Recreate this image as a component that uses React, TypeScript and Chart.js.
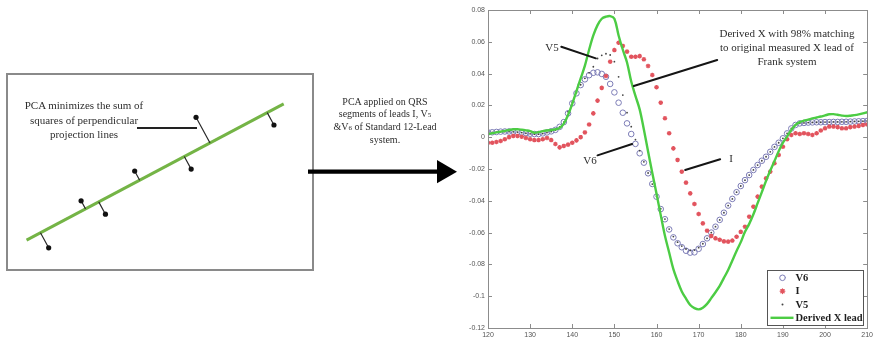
import React, { useEffect, useRef } from 'react';
import { Chart, registerables } from 'chart.js';
Chart.register(...registerables);

// ---------- ECG chart data ----------
const X_VALUES = [
  120, 121, 122, 123, 124, 125, 126, 127, 128, 129,
  130, 131, 132, 133, 134, 135, 136, 137, 138, 139,
  140, 141, 142, 143, 144, 145, 146, 147, 148, 149,
  150, 151, 152, 153, 154, 155, 156, 157, 158, 159,
  160, 161, 162, 163, 164, 165, 166, 167, 168, 169,
  170, 171, 172, 173, 174, 175, 176, 177, 178, 179,
  180, 181, 182, 183, 184, 185, 186, 187, 188, 189,
  190, 191, 192, 193, 194, 195, 196, 197, 198, 199,
  200, 201, 202, 203, 204, 205, 206, 207, 208, 209, 210,
];

const V6_VALUES = [
  0.003, 0.0031, 0.0033, 0.0035, 0.0036, 0.0036, 0.0035, 0.0033, 0.003, 0.0026,
  0.0022, 0.002, 0.002, 0.0024, 0.003, 0.0037, 0.0046, 0.0065, 0.0095, 0.015,
  0.0213, 0.0276, 0.0328, 0.0364, 0.039, 0.0405, 0.0408, 0.0398, 0.038, 0.0335,
  0.0282, 0.0217, 0.0154, 0.0087, 0.002, -0.0042, -0.0101, -0.016, -0.0227, -0.0294,
  -0.0374, -0.0452, -0.0516, -0.058, -0.063, -0.0667, -0.0692, -0.0714, -0.0726, -0.0724,
  -0.0702, -0.0672, -0.0636, -0.06, -0.0563, -0.052, -0.0475, -0.043, -0.0388, -0.0346,
  -0.0307, -0.027, -0.0238, -0.0206, -0.0175, -0.0148, -0.0123, -0.0092, -0.0061, -0.0035,
  -0.0007, 0.0024, 0.0055, 0.0077, 0.0087, 0.009, 0.0092, 0.0093, 0.0094, 0.0094,
  0.0095, 0.0095, 0.0096, 0.0096, 0.0097, 0.0097, 0.0098, 0.0099, 0.01, 0.0101, 0.0102,
];

const I_VALUES = [
  -0.0035, -0.0035, -0.003, -0.0024, -0.0013, 0.0, 0.0008, 0.0008, 0.0003, -0.0005,
  -0.0013, -0.0018, -0.0018, -0.0013, -0.0005, -0.0018, -0.0043, -0.0064, -0.0055, -0.0047,
  -0.0035, -0.002, 0.0, 0.003, 0.008, 0.015, 0.023, 0.031, 0.0385, 0.0475,
  0.0548, 0.0594, 0.0574, 0.0538, 0.0506, 0.0506, 0.051, 0.049, 0.0448, 0.0391,
  0.0314, 0.0217, 0.0119, 0.0025, -0.007, -0.0143, -0.0217, -0.0286, -0.0353, -0.042,
  -0.0483, -0.0542, -0.0588, -0.0621, -0.0636, -0.0645, -0.0655, -0.0657, -0.065, -0.0626,
  -0.0595, -0.0563, -0.05, -0.0437, -0.0374, -0.0311, -0.0259, -0.0217, -0.0164, -0.0112,
  -0.006, -0.0013, 0.0014, 0.0025, 0.002, 0.0025, 0.002, 0.0014, 0.0025, 0.0042,
  0.0056, 0.0067, 0.0067, 0.0063, 0.0056, 0.0056, 0.0063, 0.0067, 0.0071, 0.0077, 0.008,
];

const V5_VALUES = [
  0.0028, 0.003, 0.0032, 0.0034, 0.0035, 0.0035, 0.0034, 0.0032, 0.0029, 0.0025,
  0.0021, 0.0019, 0.0019, 0.0023, 0.0029, 0.0036, 0.0045, 0.0064, 0.0095, 0.016,
  0.022, 0.028, 0.033, 0.037, 0.0405, 0.0443, 0.0495, 0.0515, 0.0525, 0.0517,
  0.0475, 0.038, 0.0265, 0.0154, 0.0066, -0.0015, -0.0085, -0.0155, -0.0225, -0.0295,
  -0.0372, -0.045, -0.0515, -0.0578, -0.0625, -0.066, -0.0685, -0.0703, -0.0712, -0.071,
  -0.0695, -0.067, -0.0636, -0.06, -0.0563, -0.052, -0.0475, -0.043, -0.0388, -0.0346,
  -0.0307, -0.027, -0.0238, -0.0206, -0.0175, -0.0148, -0.0123, -0.0092, -0.0061, -0.0035,
  -0.0007, 0.0024, 0.0055, 0.0077, 0.0087, 0.009, 0.0092, 0.0093, 0.0094, 0.0094,
  0.0095, 0.0095, 0.0096, 0.0096, 0.0097, 0.0097, 0.0098, 0.0099, 0.01, 0.0101, 0.0102,
];

const DERIVED_X_VALUES = [
  0.002, 0.0025, 0.003, 0.0035, 0.004, 0.0045, 0.005, 0.005, 0.0047, 0.0043,
  0.0038, 0.0028, 0.0032, 0.0038, 0.0042, 0.0045, 0.005, 0.0058, 0.0085, 0.014,
  0.021, 0.029, 0.037, 0.045, 0.055, 0.064, 0.0705, 0.0745, 0.0758, 0.0762,
  0.0745, 0.064, 0.055, 0.047, 0.035, 0.026, 0.0175, 0.0048, -0.009, -0.0225,
  -0.0355, -0.049, -0.062, -0.0725, -0.083, -0.0905, -0.097, -0.1015, -0.1055, -0.1075,
  -0.1083, -0.1072, -0.1048, -0.1012, -0.0975, -0.0935, -0.0885, -0.0835, -0.0775, -0.0715,
  -0.066, -0.0595, -0.0545, -0.0485, -0.0415, -0.0345, -0.0275, -0.021, -0.015, -0.0088,
  -0.0035, 0.0005, 0.0045, 0.0078, 0.0095, 0.0104, 0.011, 0.0118, 0.0124, 0.013,
  0.0137, 0.0144, 0.0145, 0.0141, 0.0136, 0.0133, 0.0135, 0.0139, 0.0144, 0.015, 0.0157,
];

const X_TICKS = [120, 130, 140, 150, 160, 170, 180, 190, 200, 210];
const Y_TICKS = [-0.12, -0.1, -0.08, -0.06, -0.04, -0.02, 0, 0.02, 0.04, 0.06, 0.08];
const LEGEND_LABELS = ['V6', 'I', 'V5', 'Derived X lead'];

// annotation pointer segments (data coordinates): V5, Derived X, V6, I
const POINTER_FROM_X = [137.4, 174.4, 146.0, 175.1];
const POINTER_FROM_Y = [0.0569, 0.0486, -0.0114, -0.0139];
const POINTER_TO_X = [145.6, 154.6, 154.2, 166.8];
const POINTER_TO_Y = [0.0496, 0.0322, -0.0043, -0.0206];

// ---------- PCA schematic data ----------
const PCA_POINTS_X = [39.7, 73, 98, 128, 186, 191, 271];
const PCA_POINTS_Y = [20, 69, 55, 100, 102, 156, 148];
const PCA_LINE_X = [17, 281];
const PCA_LINE_Y = [28, 170];

const COLORS = {
  v6: '#7c7cb6',
  i: '#e2545e',
  v5: '#444444',
  derived: '#4ccc44',
  pcaLine: '#74b446',
};

const SERIF = "'Liberation Serif', 'Times New Roman', serif";
const SANS = "'Liberation Sans', Arial, sans-serif";

const toPts = (ys: number[]) => ys.map((y, i) => ({ x: X_VALUES[i], y }));

const framePlugin = {
  id: 'frameAndLegend',
  afterDatasetsDraw(chart: any) {
    const { ctx, chartArea: a, scales } = chart;
    const xs = scales.x;
    const ys = scales.y;
    ctx.save();
    // frame
    ctx.strokeStyle = '#8c8c8c';
    ctx.lineWidth = 1;
    ctx.strokeRect(Math.round(a.left) + 0.5, Math.round(a.top) + 0.5, Math.round(a.right - a.left), Math.round(a.bottom - a.top));
    ctx.beginPath();
    X_TICKS.forEach((v) => {
      const px = Math.round(xs.getPixelForValue(v)) + 0.5;
      ctx.moveTo(px, a.bottom); ctx.lineTo(px, a.bottom - 4);
      ctx.moveTo(px, a.top); ctx.lineTo(px, a.top + 4);
    });
    Y_TICKS.forEach((v) => {
      const py = Math.round(ys.getPixelForValue(v)) + 0.5;
      ctx.moveTo(a.left, py); ctx.lineTo(a.left + 4, py);
      ctx.moveTo(a.right, py); ctx.lineTo(a.right - 4, py);
    });
    ctx.stroke();

    // pointer lines
    ctx.strokeStyle = '#151515';
    ctx.lineWidth = 2;
    ctx.lineCap = 'round';
    POINTER_FROM_X.forEach((fx, k) => {
      ctx.beginPath();
      ctx.moveTo(xs.getPixelForValue(fx), ys.getPixelForValue(POINTER_FROM_Y[k]));
      ctx.lineTo(xs.getPixelForValue(POINTER_TO_X[k]), ys.getPixelForValue(POINTER_TO_Y[k]));
      ctx.stroke();
    });

    // legend
    const w = 96, h = 55;
    const lx = Math.round(a.right - 100) + 0.5;
    const ly = Math.round(a.bottom - 58) + 0.5;
    ctx.fillStyle = '#ffffff';
    ctx.fillRect(lx, ly, w, h);
    ctx.strokeStyle = '#555';
    ctx.lineWidth = 1;
    ctx.strokeRect(lx, ly, w, h);
    const rows = [7.3, 20.7, 34, 47.3];
    const mx = lx + 15;
    // V6
    ctx.beginPath();
    ctx.strokeStyle = COLORS.v6; ctx.lineWidth = 1;
    ctx.arc(mx, ly + rows[0], 2.8, 0, Math.PI * 2);
    ctx.stroke();
    // I (star)
    ctx.beginPath();
    ctx.strokeStyle = COLORS.i; ctx.lineWidth = 1.3;
    const r = 2.3, cy = ly + rows[1];
    ctx.moveTo(mx - r, cy); ctx.lineTo(mx + r, cy);
    ctx.moveTo(mx, cy - r); ctx.lineTo(mx, cy + r);
    const d = r * 0.707;
    ctx.moveTo(mx - d, cy - d); ctx.lineTo(mx + d, cy + d);
    ctx.moveTo(mx - d, cy + d); ctx.lineTo(mx + d, cy - d);
    ctx.stroke();
    // V5 dot
    ctx.beginPath();
    ctx.fillStyle = COLORS.v5;
    ctx.arc(mx, ly + rows[2], 1, 0, Math.PI * 2);
    ctx.fill();
    // Derived line
    ctx.beginPath();
    ctx.strokeStyle = COLORS.derived; ctx.lineWidth = 2.4; ctx.lineCap = 'butt';
    ctx.moveTo(lx + 3, ly + rows[3]); ctx.lineTo(lx + 26, ly + rows[3]);
    ctx.stroke();
    // labels
    ctx.fillStyle = '#1e1e1e';
    ctx.font = `bold 10.5px ${SERIF}`;
    ctx.textBaseline = 'middle';
    ctx.textAlign = 'left';
    LEGEND_LABELS.forEach((t, k) => ctx.fillText(t, lx + 28, ly + rows[k] + 0.5));
    ctx.restore();
  },
};

function EcgChart() {
  const ref = useRef<HTMLCanvasElement | null>(null);
  useEffect(() => {
    if (!ref.current) return;
    const chart = new Chart(ref.current, {
      type: 'scatter',
      data: {
        datasets: [
          {
            label: LEGEND_LABELS[0],
            data: toPts(V6_VALUES),
            pointStyle: 'circle',
            pointRadius: 2.8,
            pointBorderColor: COLORS.v6,
            pointBackgroundColor: 'rgba(0,0,0,0)',
            pointBorderWidth: 1,
            order: 3,
          },
          {
            label: LEGEND_LABELS[1],
            data: toPts(I_VALUES),
            pointStyle: 'star',
            pointRadius: 2.3,
            pointBorderColor: COLORS.i,
            pointBackgroundColor: COLORS.i,
            pointBorderWidth: 1.3,
            order: 2,
          },
          {
            label: LEGEND_LABELS[2],
            data: toPts(V5_VALUES),
            pointStyle: 'circle',
            pointRadius: 0.9,
            pointBorderWidth: 0,
            pointBackgroundColor: COLORS.v5,
            pointBorderColor: COLORS.v5,
            order: 1,
          },
          {
            label: LEGEND_LABELS[3],
            data: toPts(DERIVED_X_VALUES),
            showLine: true,
            pointRadius: 0,
            borderColor: COLORS.derived,
            borderWidth: 2.4,
            tension: 0.35,
            order: 0,
          },
        ],
      },
      options: {
        animation: false,
        responsive: false,
        devicePixelRatio: 1,
        events: [],
        layout: { padding: { top: 10, right: 6, left: 0, bottom: 0 } },
        plugins: { legend: { display: false }, tooltip: { enabled: false } },
        scales: {
          x: {
            type: 'linear',
            min: 120,
            max: 210,
            afterBuildTicks: (s: any) => { s.ticks = X_TICKS.map((v) => ({ value: v })); },
            afterFit: (s: any) => { s.height = 14; },
            grid: { display: false, drawTicks: false },
            border: { display: false },
            ticks: {
              autoSkip: false,
              maxRotation: 0,
              padding: 3,
              color: '#555',
              font: { family: SANS, size: 7 },
              callback: (v: any) => String(v),
            },
          },
          y: {
            type: 'linear',
            min: -0.12,
            max: 0.08,
            afterBuildTicks: (s: any) => { s.ticks = Y_TICKS.map((v) => ({ value: v })); },
            afterFit: (s: any) => { s.width = 48; },
            grid: { display: false, drawTicks: false },
            border: { display: false },
            ticks: {
              autoSkip: false,
              padding: 3,
              color: '#555',
              font: { family: SANS, size: 7 },
              callback: (v: any) => {
                const r = Math.round(Number(v) * 100) / 100;
                return r === 0 ? '0' : String(r);
              },
            },
          },
        },
      },
      plugins: [framePlugin],
    } as any);
    return () => chart.destroy();
  }, []);
  return (
    <canvas
      ref={ref}
      width={436}
      height={342}
      style={{ position: 'absolute', left: 440, top: 0, width: 436, height: 342 }}
    />
  );
}

function PcaDiagram() {
  const ref = useRef<HTMLCanvasElement | null>(null);
  useEffect(() => {
    if (!ref.current) return;
    const x0 = PCA_LINE_X[0], y0 = PCA_LINE_Y[0];
    const dx = PCA_LINE_X[1] - x0, dy = PCA_LINE_Y[1] - y0;
    const len = Math.hypot(dx, dy);
    const ux = dx / len, uy = dy / len;
    const projections: any[] = [];
    PCA_POINTS_X.forEach((px, k) => {
      const py = PCA_POINTS_Y[k];
      const t = (px - x0) * ux + (py - y0) * uy;
      projections.push({ x: px, y: py });
      projections.push({ x: x0 + t * ux, y: y0 + t * uy });
      projections.push({ x: px, y: null });
    });
    const chart = new Chart(ref.current, {
      type: 'scatter',
      data: {
        datasets: [
          {
            data: PCA_POINTS_X.map((x, k) => ({ x, y: PCA_POINTS_Y[k] })),
            pointRadius: 2.6,
            pointBackgroundColor: '#111',
            pointBorderColor: '#111',
            pointBorderWidth: 0,
            order: 0,
          },
          {
            data: projections,
            showLine: true,
            spanGaps: false,
            pointRadius: 0,
            borderColor: '#2a2a2a',
            borderWidth: 1.2,
            order: 1,
          },
          {
            data: PCA_LINE_X.map((x, k) => ({ x, y: PCA_LINE_Y[k] })),
            showLine: true,
            pointRadius: 0,
            borderColor: COLORS.pcaLine,
            borderWidth: 3,
            order: 2,
          },
        ],
      },
      options: {
        animation: false,
        responsive: false,
        devicePixelRatio: 1,
        events: [],
        layout: { padding: 0 },
        plugins: { legend: { display: false }, tooltip: { enabled: false } },
        scales: {
          x: { type: 'linear', min: 0, max: 308, display: false },
          y: { type: 'linear', min: 0, max: 198, display: false },
        },
      },
    } as any);
    return () => chart.destroy();
  }, []);
  return (
    <canvas
      ref={ref}
      width={308}
      height={198}
      style={{ position: 'absolute', left: 6, top: 73, width: 308, height: 198 }}
    />
  );
}

const textBase: React.CSSProperties = {
  position: 'absolute',
  fontFamily: SERIF,
  color: '#2e2e2e',
  textAlign: 'center',
  whiteSpace: 'nowrap',
};

export default function App() {
  return (
    <div style={{ position: 'absolute', left: 0, top: 0, width: 876, height: 342, background: '#fff', overflow: 'hidden' }}>
      {/* left box */}
      <div style={{ position: 'absolute', left: 6, top: 73, width: 308, height: 198, border: '2px solid #8a8a8a', boxSizing: 'border-box' }} />
      <PcaDiagram />
      <div style={{ ...textBase, left: 24, top: 98, width: 120, fontSize: 11, lineHeight: '14.5px' }}>
        PCA minimizes the sum of<br />squares of perpendicular<br />projection lines
      </div>
      <div style={{ position: 'absolute', left: 137, top: 127, width: 60, height: 2, background: '#222' }} />

      {/* middle text */}
      <div style={{ ...textBase, left: 325, top: 95.5, width: 120, fontSize: 10, lineHeight: '12px' }}>
        PCA applied on QRS<br />
        segments of leads I, V<span style={{ fontSize: 7 }}>5</span><br />
        &amp;V<span style={{ fontSize: 7 }}>6</span> of Standard 12-Lead<br />
        system.
      </div>

      {/* arrow */}
      <svg width={170} height={50} style={{ position: 'absolute', left: 300, top: 147 }}>
        <line x1={8} y1={24.7} x2={140} y2={24.7} stroke="#000" strokeWidth={4.2} />
        <polygon points="137,13 157,24.7 137,36.3" fill="#000" />
      </svg>

      <EcgChart />

      {/* chart annotations */}
      <div style={{ ...textBase, left: 540, top: 40, width: 24, fontSize: 11, lineHeight: '14px' }}>V5</div>
      <div style={{ ...textBase, left: 697, top: 25.5, width: 180, fontSize: 11, lineHeight: '14.2px' }}>
        Derived X with 98% matching<br />to original measured X lead of<br />Frank system
      </div>
      <div style={{ ...textBase, left: 578, top: 153, width: 24, fontSize: 11, lineHeight: '14px' }}>V6</div>
      <div style={{ ...textBase, left: 725, top: 151, width: 12, fontSize: 11, lineHeight: '14px' }}>I</div>
    </div>
  );
}
